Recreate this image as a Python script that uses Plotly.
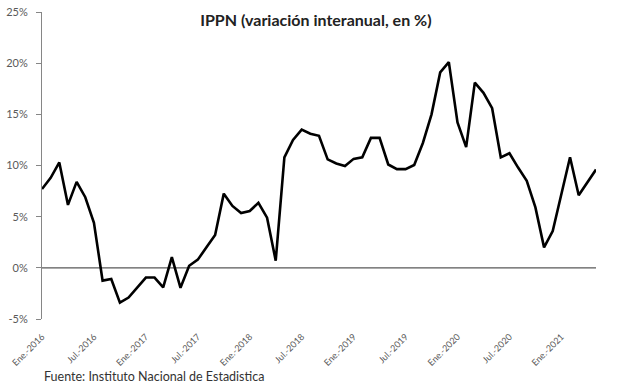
import plotly.graph_objects as go

months = ["Ene.", "Feb.", "Mar.", "Abr.", "May.", "Jun.", "Jul.", "Ago.", "Sep.", "Oct.", "Nov.", "Dic."]
years = [2016, 2017, 2018, 2019, 2020, 2021]
categories = [f"{m}-{y}" for y in years for m in months][:65]

ippn = [7.7, 8.8, 10.3, 6.15, 8.4, 6.9, 4.4, -1.25, -1.1, -3.4, -2.9, -1.9,
        -0.95, -0.95, -1.9, 1.05, -1.95, 0.2, 0.8, 2.0, 3.2, 7.25, 6.05, 5.35,
        5.55, 6.35, 4.9, 0.7, 10.8, 12.5, 13.5, 13.1, 12.9, 10.6, 10.2, 9.95,
        10.65, 10.8, 12.7, 12.7, 10.1, 9.65, 9.65, 10.05, 12.2, 15.0, 19.1, 20.1,
        14.2, 11.8, 18.1, 17.1, 15.6, 10.8, 11.2, 9.8, 8.5, 5.9, 2.0, 3.6,
        7.2, 10.8, 7.1, 8.4, 9.6]

y_ticks = [-5, 0, 5, 10, 15, 20, 25]
y_tick_labels = [f"{v}%" for v in y_ticks]
x_tick_idx = list(range(0, 65, 6))
x_tick_labels = [categories[i] for i in x_tick_idx]

x = list(range(len(ippn)))

fig = go.Figure()
fig.add_trace(go.Scatter(x=x, y=ippn, mode="lines",
                         line=dict(color="black", width=2.6), showlegend=False))

fig.add_shape(type="line", xref="x", yref="y", x0=0, x1=len(ippn) - 1, y0=0, y1=0,
              line=dict(color="#595959", width=1.2), layer="below")

fig.update_layout(
    width=617, height=387,
    margin=dict(l=42, r=21, t=12, b=68),
    paper_bgcolor="white", plot_bgcolor="white",
    font=dict(family="Lato, Open Sans, sans-serif", color="#595959"),
    title=dict(text="<b>IPPN (variación interanual, en %)</b>", x=0.512, xanchor="center",
               y=0.948, yanchor="middle", font=dict(size=16, color="#222222")),
    xaxis=dict(range=[0, len(ippn) - 1], tickmode="array", tickvals=x_tick_idx,
               ticktext=x_tick_labels, tickangle=-45, showgrid=False, zeroline=False,
               showline=False, ticks="outside", ticklen=8, tickcolor="rgba(0,0,0,0)",
               automargin=False, tickfont=dict(size=9, color="#595959")),
    yaxis=dict(range=[-5, 25], tickmode="array", tickvals=y_ticks, ticktext=y_tick_labels,
               showgrid=False, zeroline=False, showline=True, linecolor="#868686",
               linewidth=1, ticks="outside", ticklen=5, tickcolor="#868686",
               ticklabelstandoff=6,
               automargin=False, tickfont=dict(size=11, color="#595959")),
    annotations=[dict(text="Fuente: Instituto Nacional de Estadistica", xref="paper",
                      yref="paper", x=0.0, xanchor="left", y=-0.186, yanchor="middle",
                      showarrow=False, font=dict(size=12.5, color="#333333"))],
)

# remove the browser's default 8px body margin so the figure sits at the window origin
fig.write_html("out.html", config={"displayModeBar": False},
               post_script="document.body.style.margin='0';")
